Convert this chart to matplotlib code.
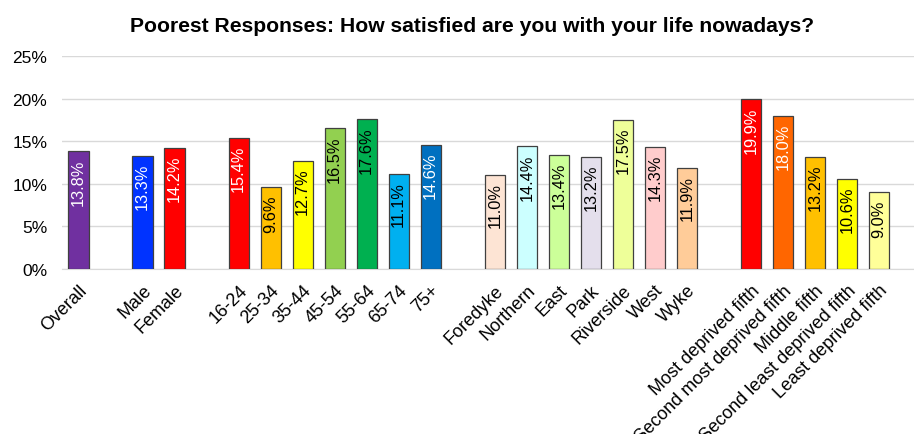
import matplotlib
matplotlib.use("Agg")
import matplotlib.pyplot as plt
import numpy as np

plt.rcParams['font.family'] = ['Liberation Sans', 'DejaVu Sans']

categories = ["Overall", "", "Male", "Female", "",
              "16-24", "25-34", "35-44", "45-54", "55-64", "65-74", "75+", "",
              "Foredyke", "Northern", "East", "Park", "Riverside", "West", "Wyke", "",
              "Most deprived fifth", "Second most deprived fifth", "Middle fifth",
              "Second least deprived fifth", "Least deprived fifth"]
values = [13.8, None, 13.3, 14.2, None,
          15.4, 9.6, 12.7, 16.5, 17.6, 11.1, 14.6, None,
          11.0, 14.4, 13.4, 13.2, 17.5, 14.3, 11.9, None,
          19.9, 18.0, 13.2, 10.6, 9.0]
colors = ["#7030a0", None, "#0033ff", "#ff0000", None,
          "#ff0000", "#ffc000", "#ffff00", "#92d050", "#00b050", "#00b0f0", "#0070c0", None,
          "#fde4d4", "#ccffff", "#ccff99", "#e4dfec", "#eeff99", "#ffcccc", "#ffcc99", None,
          "#ff0000", "#ff6600", "#ffc000", "#ffff00", "#ffff99"]
label_colors = ["white", None, "white", "white", None,
                "white", "black", "black", "black", "black", "black", "white", None,
                "black", "black", "black", "black", "black", "black", "black", None,
                "white", "white", "black", "black", "black"]
yticks = [0, 5, 10, 15, 20, 25]

W, H = 914, 435
fig = plt.figure(figsize=(W / 100, H / 100), dpi=100)
left, right = 62.5 / W, 914 / W
bottom, top = (H - 270) / H, (H - 57) / H
ax = fig.add_axes([left, bottom, right - left, top - bottom])

xs = [i for i, v in enumerate(values) if v is not None]
vals = [values[i] for i in xs]
cols = [colors[i] for i in xs]
ax.bar(xs, vals, width=0.63, color=cols, edgecolor="#404040", linewidth=0.9, zorder=3)

for i in xs:
    v = values[i]
    ax.annotate(f"{v:.1f}%", xy=(i, v), xytext=(0, -5), textcoords="offset points",
                rotation=90, ha="center", va="top", fontsize=11.8,
                color=label_colors[i], zorder=4)

ax.set_xlim(-0.5, -0.5 + (914 - 62.5) / 32.02)
ax.set_ylim(0, 25)
ax.set_yticks(yticks)
ax.set_yticklabels([f"{t}%" for t in yticks], fontsize=12.5)
ax.yaxis.grid(True, color="#d9d9d9", linewidth=1, zorder=0)
ax.set_axisbelow(True)
ax.tick_params(axis="y", length=0, pad=11)
ax.tick_params(axis="x", length=0, pad=9)
ax.set_xticks(range(len(categories)))
ax.set_xticklabels(categories, rotation=45, ha="right", rotation_mode="anchor", fontsize=13)
for s in ["left", "right", "top"]:
    ax.spines[s].set_visible(False)
ax.spines["bottom"].set_color("#d9d9d9")

fig.text(472 / W, 1 - 26 / H,
         "Poorest Responses: How satisfied are you with your life nowadays?",
         ha="center", va="center", fontsize=15.2, fontweight="bold")

fig.savefig("out.png", dpi=100)
